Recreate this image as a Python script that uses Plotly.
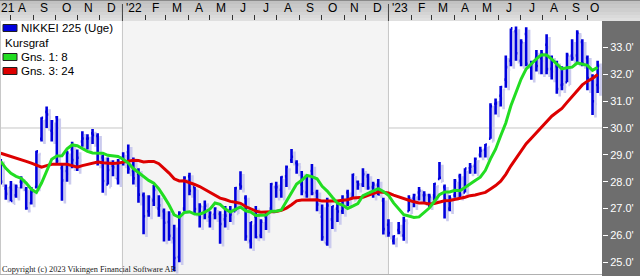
import pandas as pd
import plotly.graph_objects as go

W, H = 640, 276

# ---------------- data (weekly, week-ending dates) ----------------
WEEK_FIRST = "2021-07-18"
N_WEEKS = 118
WEEKS = pd.date_range(WEEK_FIRST, periods=N_WEEKS, freq="7D")

OPEN = [28100, 27750, 27800, 27500, 28000, 27700, 27200, 27800, 29600, 30600,
        29900, 30400, 28500, 28400, 29200, 28700, 29500, 29600, 29800, 29700,
        28900, 27900, 28600, 28100, 28900, 29100, 28400, 28300, 27500, 26900,
        27300, 27000, 26900, 26500, 25900, 25200, 27000, 28200, 27800, 26800,
        26900, 26700, 26800, 26800, 26600, 26900, 26900, 27900, 27400, 25800,
        26700, 26000, 26700, 27000, 27800, 27700, 28200, 28800, 28700, 27900,
        27600, 28400, 27600, 26700, 25700, 26600, 27000, 26900, 27600, 27400,
        28000, 27900, 28200, 27800, 27900, 27300, 26400, 25800, 26200, 26000,
        26900, 27400, 27600, 27500, 27500, 27500, 28100, 27800, 27000, 27500,
        28200, 27600, 28500, 28600, 29000, 29200, 29600, 30900, 31200, 31800,
        32500, 33600, 32500, 33500, 32300, 32600, 32600, 33100, 32200, 32300,
        31600, 31700, 32700, 32700, 33200, 32600, 31800, 31600]
HIGH = [28850, 27900, 28030, 27900, 28200, 27800, 27800, 29150, 30400, 30795,
        30300, 30450, 28700, 29150, 29490, 29200, 29880, 29770, 29960, 29800,
        29000, 28900, 28800, 28850, 29100, 29388, 28900, 28500, 27600, 27500,
        27880, 27500, 27000, 26900, 26400, 26900, 28200, 28338, 27800, 27200,
        27300, 26900, 27050, 26900, 27100, 27100, 27800, 28389, 27500, 26500,
        27100, 26600, 26900, 27950, 28000, 28200, 28600, 29222, 28800, 28400,
        28250, 28659, 27700, 27150, 27400, 27100, 27300, 27500, 27700, 28300,
        28050, 28502, 28300, 28000, 28100, 27400, 26600, 26000, 26500, 26700,
        27500, 27550, 27800, 27650, 27550, 27950, 28734, 27900, 27500, 28100,
        28300, 28500, 28700, 28900, 29300, 29400, 30924, 31100, 31560, 32700,
        33706, 33772, 33300, 33753, 32500, 32900, 32900, 33488, 32700, 32500,
        32300, 32800, 33300, 33634, 33300, 32700, 32000, 32500]
LOW = [27900, 27330, 27270, 27400, 27750, 26954, 27150, 27750, 29500, 30000,
       29500, 28700, 27293, 28000, 28500, 28400, 29300, 29200, 29400, 28600,
       27588, 27900, 28200, 27900, 28600, 28300, 27900, 27217, 26044, 26700,
       27100, 26700, 25775, 25800, 24681, 25000, 26900, 27500, 26800, 26300,
       26600, 26300, 26600, 25688, 26300, 26500, 26900, 27700, 25800, 25520,
       25900, 25900, 26200, 26900, 27400, 27400, 27800, 28700, 28300, 27500,
       27400, 27500, 26900, 25800, 25621, 26237, 26500, 26800, 27100, 27400,
       27700, 27800, 27700, 27400, 27500, 26034, 25950, 25661, 26050, 25800,
       26900, 27050, 27300, 27200, 27050, 27300, 28100, 26632, 26900, 27400,
       27400, 27600, 28300, 28300, 28900, 28900, 29600, 30500, 30800, 31500,
       32300, 32500, 32300, 32300, 31791, 32100, 32000, 32000, 31800, 31275,
       31400, 31700, 32500, 32400, 32300, 31400, 30487, 31300]
CLOSE = [28003, 27548, 27283, 27820, 27977, 27013, 27641, 29128, 30381, 30500,
         30248, 28771, 28049, 29068, 28804, 28892, 29611, 29609, 29745, 28751,
         28029, 28437, 28545, 28782, 28791, 28479, 28124, 27522, 26717, 27440,
         27696, 27122, 26476, 25985, 25162, 26827, 28149, 27665, 26985, 27093,
         27105, 26847, 27003, 26427, 26739, 26781, 27761, 27824, 25963, 26491,
         25935, 26517, 26788, 27914, 27801, 28175, 28546, 28930, 28641, 27650,
         28214, 27568, 27153, 25937, 27116, 27090, 26890, 27105, 27199, 28263,
         27899, 28283, 27777, 27901, 27527, 26235, 26094, 25973, 26119, 26553,
         27383, 27509, 27670, 27513, 27453, 27927, 28143, 27334, 27385, 28041,
         27518, 28493, 28564, 28856, 29157, 29388, 30808, 30916, 31524, 32265,
         33706, 32781, 33189, 32388, 32391, 32304, 32759, 32192, 32473, 31450,
         31624, 32710, 32606, 33533, 32402, 31857, 30994, 32315]

# Gns. 1: 8 (green) and Gns. 3: 24 (red) average lines
GNS_8 = [28760, 28500, 28310, 28200, 28130, 27950, 27720, 27600, 27950, 28420,
         28839, 28957, 28966, 29223, 29369, 29339, 29243, 29132, 29069, 29066,
         29064, 28985, 28952, 28939, 28836, 28695, 28492, 28339, 28175, 28050,
         27944, 27736, 27447, 27135, 26765, 26678, 26857, 26885, 26796, 26793,
         26871, 26979, 27209, 27159, 26983, 26873, 26970, 27061, 26918, 26874,
         26740, 26751, 26758, 26899, 26904, 26948, 27271, 27576, 27914, 28056,
         28234, 28191, 28110, 27830, 27651, 27421, 27202, 27134, 27007, 27094,
         27187, 27481, 27563, 27665, 27744, 27636, 27497, 27211, 26989, 26772,
         26723, 26674, 26692, 26852, 27022, 27266, 27519, 27617, 27617, 27683,
         27664, 27787, 27926, 28042, 28169, 28425, 28853, 29212, 29713, 30185,
         30828, 31318, 31822, 32197, 32395, 32569, 32723, 32714, 32560, 32394,
         32198, 32238, 32265, 32419, 32374, 32332, 32147, 32255]
GNS_24 = [29060, 29000, 28950, 28900, 28840, 28760, 28690, 28600, 28540, 28600,
          28650, 28650, 28650, 28650, 28600, 28540, 28600, 28650, 28700, 28730,
          28710, 28690, 28680, 28693, 28726, 28765, 28800, 28787, 28735, 28753,
          28755, 28671, 28509, 28321, 28109, 28028, 28032, 27973, 27898, 27823,
          27718, 27603, 27489, 27392, 27338, 27269, 27237, 27197, 27079, 26996,
          26905, 26863, 26866, 26886, 26890, 26934, 27020, 27143, 27288, 27322,
          27325, 27321, 27328, 27280, 27280, 27290, 27285, 27314, 27333, 27395,
          27400, 27420, 27495, 27554, 27620, 27608, 27580, 27499, 27429, 27361,
          27313, 27253, 27213, 27207, 27175, 27190, 27232, 27290, 27301, 27341,
          27367, 27425, 27482, 27506, 27559, 27605, 27731, 27857, 28023, 28274,
          28592, 28875, 29170, 29413, 29622, 29821, 30033, 30228, 30438, 30584,
          30729, 30953, 31171, 31400, 31603, 31743, 31845, 31989]

Y_TICKS = [25000, 26000, 27000, 28000, 29000, 30000, 31000, 32000, 33000]
Y_TICK_TEXT = ["25.0'", "26.0'", "27.0'", "28.0'", "29.0'", "30.0'", "31.0'", "32.0'", "33.0'"]

MONTH_LABELS = ["A", "S", "O", "N", "D",
                "'22", "F", "M", "A", "M", "J", "J", "A", "S", "O", "N", "D",
                "'23", "F", "M", "A", "M", "J", "J", "A", "S", "O"]
FIRST_LABEL = "21"
YEAR_STARTS = ["2022-01-01", "2023-01-01"]

LEGEND_ITEMS = [("NIKKEI 225 (Uge)", "#0000dd"), ("Kursgraf", None),
                ("Gns. 1: 8", "#22dd22"), ("Gns. 3: 24", "#dd0000")]
COPYRIGHT = "Copyright (c) 2023 Vikingen Financial Software AB"

# ---------------- styling / layout ----------------
X_START, X_END = pd.Timestamp("2021-07-17"), pd.Timestamp("2023-10-21")
Y_MIN, Y_MAX = 24567, 33981
PLOT_TOP, PLOT_BOTTOM, PLOT_RIGHT = 21, 274, 602
BLUE = "#0000dd"
SHADOW = "#cbcbee"
GREEN = "#22dd22"
RED = "#dd0000"
FONT = "Liberation Sans, Arial, sans-serif"
BAR_W = 2.6


def px(x):
    return x / W


def py(y):
    return 1 - y / H


fig = go.Figure()

# shadow of the bars (offset down/right)
sh_dx = pd.Timedelta(days=4)
sh_dy = 100
fig.add_trace(go.Ohlc(
    x=WEEKS + sh_dx,
    open=[v - sh_dy for v in OPEN], high=[v - sh_dy for v in HIGH],
    low=[v - sh_dy for v in LOW], close=[v - sh_dy for v in CLOSE],
    increasing=dict(line=dict(color=SHADOW, width=BAR_W)),
    decreasing=dict(line=dict(color=SHADOW, width=BAR_W)),
    tickwidth=0.3, hoverinfo="skip", showlegend=False))

fig.add_trace(go.Ohlc(
    x=WEEKS, open=OPEN, high=HIGH, low=LOW, close=CLOSE,
    increasing=dict(line=dict(color=BLUE, width=BAR_W)),
    decreasing=dict(line=dict(color=BLUE, width=BAR_W)),
    tickwidth=0.3, hoverinfo="skip", showlegend=False))

fig.add_trace(go.Scatter(x=WEEKS, y=GNS_24, mode="lines",
                         line=dict(color=RED, width=3), hoverinfo="skip", showlegend=False))
fig.add_trace(go.Scatter(x=WEEKS, y=GNS_8, mode="lines",
                         line=dict(color=GREEN, width=3), hoverinfo="skip", showlegend=False))

shapes = []
# header band gradient
header_cols = ["#8a8a8a", "#c2c2c2", "#c8c8c8", "#cecece", "#d4d4d4", "#dadada", "#dfdfdf"]
bounds = [0, 1, 4, 8, 12, 15, 18, 21]
for c, y0, y1 in zip(header_cols, bounds[:-1], bounds[1:]):
    shapes.append(dict(type="rect", xref="paper", yref="paper", x0=0, x1=1,
                       y0=py(y1), y1=py(y0), fillcolor=c, line=dict(width=0), layer="below"))
# right dark panel
shapes.append(dict(type="rect", xref="paper", yref="paper", x0=px(PLOT_RIGHT), x1=1,
                   y0=0, y1=py(PLOT_TOP), fillcolor="#6e6e6e", line=dict(width=0), layer="below"))
# 2022 shading
shapes.append(dict(type="rect", xref="x", yref="y", x0=YEAR_STARTS[0], x1=YEAR_STARTS[1],
                   y0=Y_MIN, y1=Y_MAX, fillcolor="#f4f4f4", line=dict(width=0), layer="below"))
# year lines in plot and header
for ys in YEAR_STARTS:
    shapes.append(dict(type="line", xref="x", yref="y", x0=ys, x1=ys, y0=Y_MIN, y1=Y_MAX,
                       line=dict(color="#c6c6c6", width=1), layer="below"))
    shapes.append(dict(type="line", xref="x", yref="paper", x0=ys, x1=ys,
                       y0=py(PLOT_TOP), y1=py(4), line=dict(color="#444444", width=1)))
# 30.0 grid line
shapes.append(dict(type="line", xref="paper", yref="y", x0=0, x1=px(PLOT_RIGHT),
                   y0=30000, y1=30000, line=dict(color="#c6c6c6", width=1), layer="below"))
# borders
shapes.append(dict(type="line", xref="paper", yref="paper", x0=0, x1=px(PLOT_RIGHT),
                   y0=py(PLOT_BOTTOM + 0.5), y1=py(PLOT_BOTTOM + 0.5),
                   line=dict(color="#b0b0b0", width=1)))
shapes.append(dict(type="line", xref="paper", yref="paper", x0=px(0.5), x1=px(0.5),
                   y0=py(PLOT_BOTTOM), y1=py(PLOT_TOP), line=dict(color="#c8c8c8", width=1)))

annotations = []
# legend
leg_y = [28, 43, 57, 71]
for (txt, col), yy in zip(LEGEND_ITEMS, leg_y):
    if col:
        shapes.append(dict(type="rect", xref="paper", yref="paper", x0=px(3), x1=px(17),
                           y0=py(yy + 3.5), y1=py(yy - 3.5), fillcolor=col,
                           line=dict(color="#202020", width=1)))
        xt = 19
    else:
        xt = 3
    annotations.append(dict(text=txt, xref="paper", yref="paper", x=px(xt), y=py(yy),
                            xanchor="left", yanchor="middle", showarrow=False,
                            font=dict(family=FONT, size=11.5, color="#000000")))

# month labels on top
month_starts = pd.date_range("2021-08-01", periods=len(MONTH_LABELS), freq="MS")
for ms, lab in zip(month_starts, MONTH_LABELS):
    me = min(ms + pd.offsets.MonthBegin(1), X_END)
    mid = ms + (me - ms) / 2
    annotations.append(dict(text=lab, xref="x", yref="paper", x=mid, y=py(7.5),
                            xanchor="center", yanchor="middle", showarrow=False,
                            font=dict(family=FONT, size=12, color="#000000")))
annotations.append(dict(text=FIRST_LABEL, xref="paper", yref="paper", x=px(-1), y=py(7.5),
                        xanchor="left", yanchor="middle", showarrow=False,
                        font=dict(family=FONT, size=12, color="#000000")))
annotations.append(dict(text=COPYRIGHT, xref="paper", yref="paper", x=px(0), y=py(269),
                        xanchor="left", yanchor="middle", showarrow=False,
                        font=dict(family="Liberation Serif, Times New Roman, serif",
                                  size=8.3, color="#202020")))

tick_starts = pd.date_range("2021-08-01", periods=len(MONTH_LABELS), freq="MS")

fig.update_layout(
    width=W, height=H, margin=dict(l=0, r=0, t=0, b=0, pad=0),
    paper_bgcolor="#ffffff", plot_bgcolor="#ffffff",
    showlegend=False, hovermode=False,
    shapes=shapes, annotations=annotations,
    xaxis=dict(type="date", range=[X_START, X_END], domain=[0, px(PLOT_RIGHT)],
               side="top", rangeslider=dict(visible=False), showgrid=False,
               zeroline=False, showline=False, tickmode="array",
               tickvals=list(tick_starts), ticktext=[""] * len(tick_starts),
               ticks="outside", ticklen=5, tickcolor="#333333", tickwidth=1,
               automargin=False, fixedrange=True),
    yaxis=dict(range=[Y_MIN, Y_MAX], domain=[py(PLOT_BOTTOM), py(PLOT_TOP)],
               side="right", showgrid=False, zeroline=False, showline=False,
               tickmode="array", tickvals=Y_TICKS, ticktext=Y_TICK_TEXT,
               ticks="outside", ticklen=5, tickcolor="#ffffff", tickwidth=1,
               tickfont=dict(family=FONT, size=11, color="#ffffff"),
               automargin=False, fixedrange=True),
)

fig.write_html("out.html")
